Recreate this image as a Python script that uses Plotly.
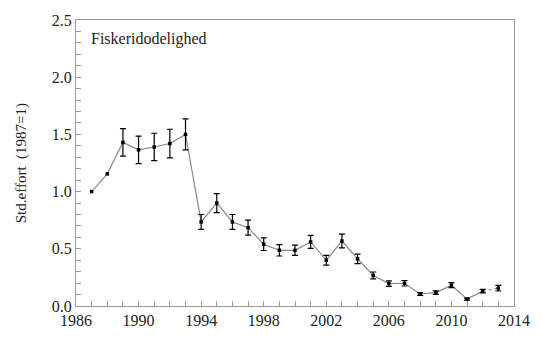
import plotly.graph_objects as go

# Standardised fishing effort by year (1987 = 1) with error bar half-widths
years = [1987, 1988, 1989, 1990, 1991, 1992, 1993, 1994, 1995, 1996, 1997,
         1998, 1999, 2000, 2001, 2002, 2003, 2004, 2005, 2006, 2007, 2008,
         2009, 2010, 2011, 2012, 2013]
effort = [1.00, 1.155, 1.43, 1.365, 1.39, 1.42, 1.50, 0.735, 0.90, 0.735, 0.685,
          0.54, 0.487, 0.487, 0.56, 0.40, 0.568, 0.412, 0.267, 0.196, 0.199, 0.105,
          0.117, 0.182, 0.06, 0.13, 0.156]
err = [None, None, 0.12, 0.12, 0.12, 0.125, 0.135, 0.065, 0.083, 0.065, 0.065,
       0.055, 0.05, 0.045, 0.057, 0.042, 0.06, 0.042, 0.03, 0.024, 0.024, 0.012,
       0.015, 0.022, 0.008, 0.015, 0.025]

x_ticks = [1986, 1990, 1994, 1998, 2002, 2006, 2010, 2014]
y_ticks = [0.0, 0.5, 1.0, 1.5, 2.0, 2.5]

FONT = "'Times New Roman', 'Liberation Serif', 'DejaVu Serif', serif"
TXT = "#222222"
AXIS = "#999999"

fig = go.Figure()

# Connecting line: solid through 2012, dotted to the final year
fig.add_trace(go.Scatter(x=years[:-1], y=effort[:-1], mode="lines",
                         line=dict(color="#8a8a8a", width=1.2),
                         hoverinfo="skip", showlegend=False))
fig.add_trace(go.Scatter(x=years[-2:], y=effort[-2:], mode="lines",
                         line=dict(color="#8a8a8a", width=1.2, dash="dot"),
                         hoverinfo="skip", showlegend=False))

# Points without error estimates
no_err = [i for i, e in enumerate(err) if e is None]
with_err = [i for i, e in enumerate(err) if e is not None]
fig.add_trace(go.Scatter(x=[years[i] for i in no_err], y=[effort[i] for i in no_err],
                         mode="markers",
                         marker=dict(symbol="square", size=3.5, color="black"),
                         showlegend=False))
# Points with error bars
fig.add_trace(go.Scatter(x=[years[i] for i in with_err], y=[effort[i] for i in with_err],
                         mode="markers",
                         marker=dict(symbol="square", size=3.5, color="black"),
                         error_y=dict(type="data", array=[err[i] for i in with_err],
                                      visible=True, color="black", thickness=1.2, width=3),
                         showlegend=False))

fig.update_layout(
    width=542, height=341,
    margin=dict(l=76, r=17, t=16, b=32),
    paper_bgcolor="white", plot_bgcolor="white",
    font=dict(family=FONT, size=16, color=TXT),
    xaxis=dict(range=[1986, 2014], tickvals=x_ticks, ticktext=[str(v) for v in x_ticks],
               ticks="inside", ticklen=5, tickcolor=AXIS,
               minor=dict(dtick=1, tick0=1986, ticks="inside", ticklen=5, tickcolor=AXIS),
               showline=True, linecolor=AXIS, linewidth=1, mirror=True,
               showgrid=False, zeroline=False,
               tickfont=dict(family=FONT, size=16, color=TXT)),
    xaxis2=dict(range=[1986, 2014], overlaying="x", anchor="y", side="bottom",
                tickvals=x_ticks, showticklabels=False, ticks="outside", ticklen=5,
                tickcolor=AXIS, showline=False, showgrid=False, zeroline=False),
    yaxis=dict(range=[0, 2.5], tickvals=y_ticks, ticktext=[f"{v:.1f}" for v in y_ticks],
               ticks="inside", ticklen=5, tickcolor=AXIS,
               minor=dict(dtick=0.1, tick0=0, ticks="inside", ticklen=5, tickcolor=AXIS),
               showline=True, linecolor=AXIS, linewidth=1, mirror=True,
               showgrid=False, zeroline=False,
               tickfont=dict(family=FONT, size=16, color=TXT)),
    annotations=[
        dict(text="Fiskeridodelighed", xref="paper", yref="paper",
             x=0.029, y=0.935, xanchor="left", yanchor="middle", showarrow=False,
             font=dict(family=FONT, size=16, color=TXT)),
        dict(text="Std.effort  (1987=1)", xref="paper", yref="paper",
             x=-0.125, y=0.5, xanchor="center", yanchor="middle", textangle=-90,
             showarrow=False, font=dict(family=FONT, size=15, color=TXT)),
    ],
)

fig.write_html("out.html")
